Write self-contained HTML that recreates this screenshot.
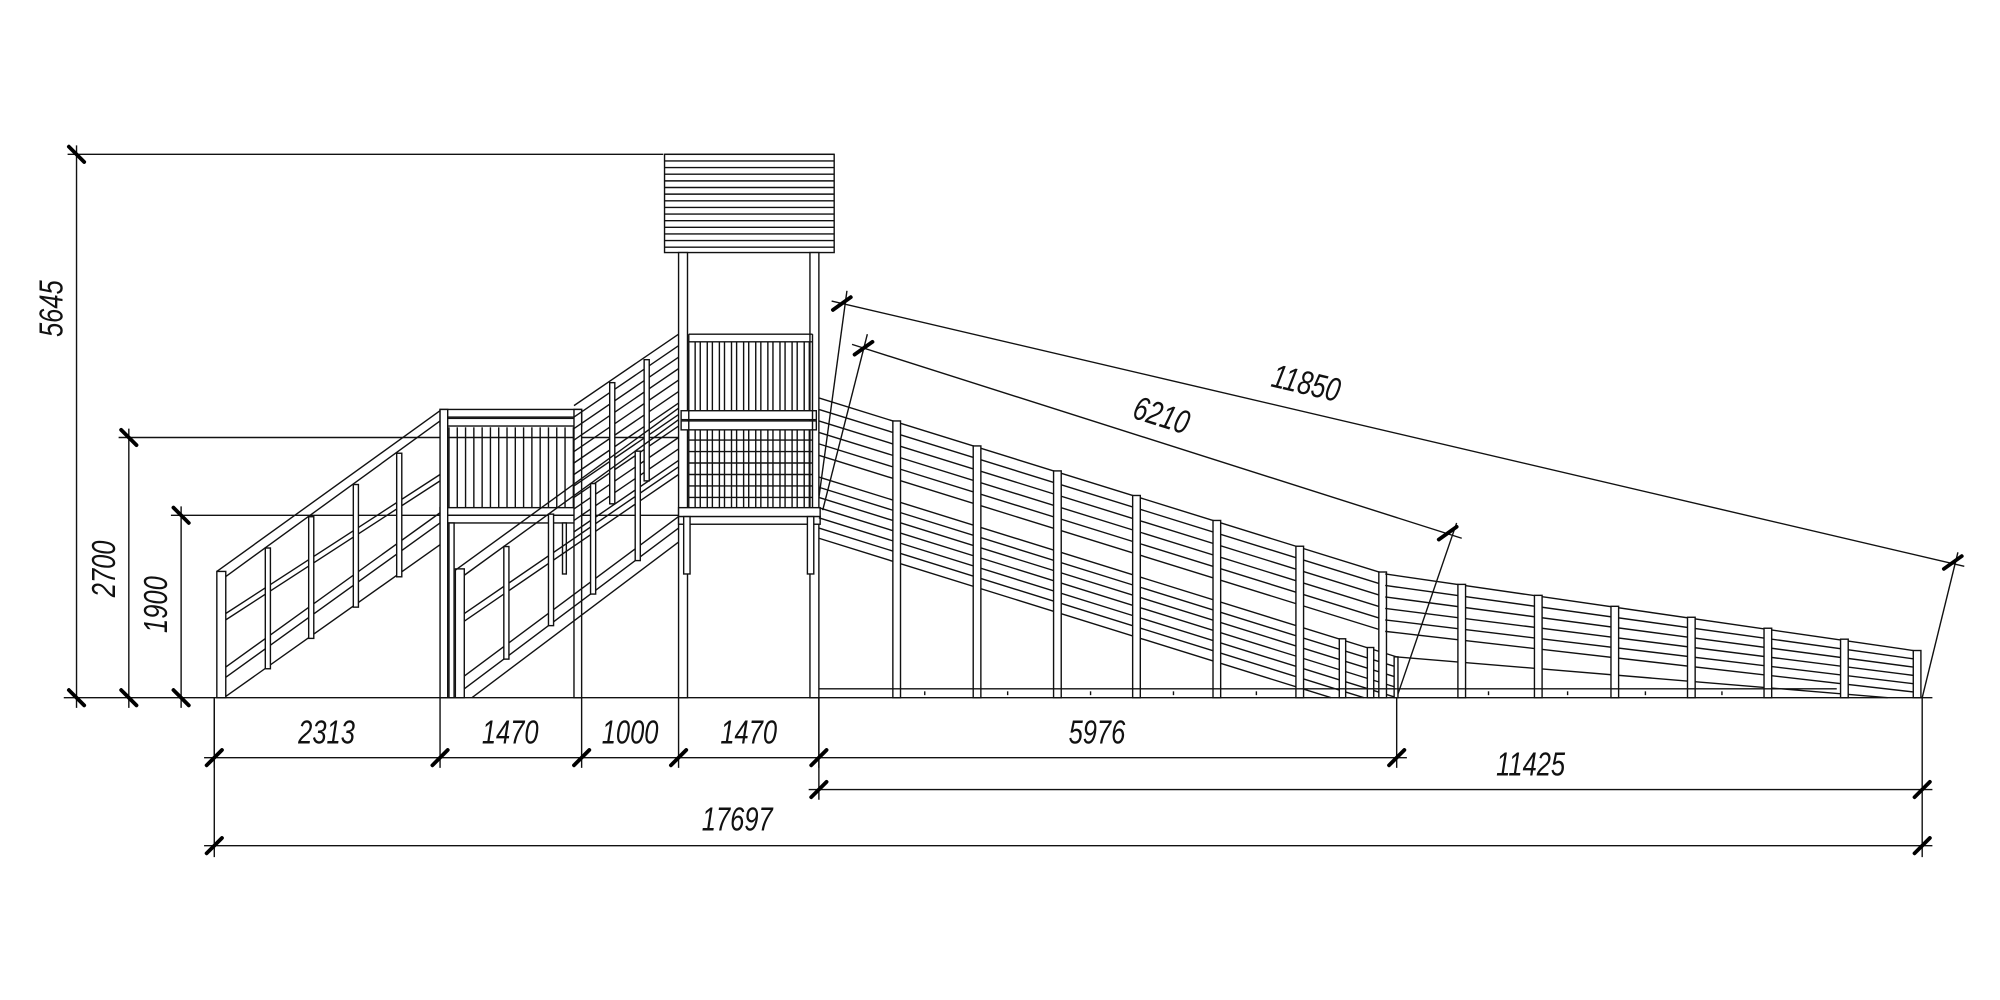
<!DOCTYPE html>
<html><head><meta charset="utf-8"><style>
html,body{margin:0;padding:0;background:#fff;}
svg{display:block}
text{font-family:"Liberation Sans",sans-serif;font-style:italic;font-size:25px;fill:#111;}
</style></head><body>
<svg id="s" width="2000" height="1000" viewBox="0 0 1568 784" preserveAspectRatio="none" xmlns="http://www.w3.org/2000/svg">
<rect width="1568" height="784" fill="#fff"/>
<g id="g" stroke="#111" stroke-width="1.1" fill="none" stroke-linecap="butt"></g>
<g id="t" stroke="#000" stroke-width="3" stroke-linecap="round"></g>
<text text-anchor="middle" transform="translate(256 583) scale(0.8 1.05)">2313</text>
<text text-anchor="middle" transform="translate(400 583) scale(0.8 1.05)">1470</text>
<text text-anchor="middle" transform="translate(494 583) scale(0.8 1.05)">1000</text>
<text text-anchor="middle" transform="translate(587 583) scale(0.8 1.05)">1470</text>
<text text-anchor="middle" transform="translate(860 583) scale(0.8 1.05)">5976</text>
<text text-anchor="middle" transform="translate(1200 608) scale(0.8 1.05)">11425</text>
<text text-anchor="middle" transform="translate(578 651) scale(0.8 1.05)">17697</text>
<text text-anchor="middle" transform="translate(49 242) rotate(-90) scale(0.8 1.05)">5645</text>
<text text-anchor="middle" transform="translate(90 446) rotate(-90) scale(0.8 1.05)">2700</text>
<text text-anchor="middle" transform="translate(131 474) rotate(-90) scale(0.8 1.05)">1900</text>
<text text-anchor="middle" transform="translate(1022 309) rotate(13.2) scale(0.8 1.05)">11850</text>
<text text-anchor="middle" transform="translate(908 334) rotate(17.5) scale(0.8 1.05)">6210</text>
</svg>
<script>
var g=document.getElementById('g'),T=document.getElementById('t');
function L(x1,y1,x2,y2,p){var e=document.createElementNS('http://www.w3.org/2000/svg','line');e.setAttribute('x1',x1);e.setAttribute('y1',y1);e.setAttribute('x2',x2);e.setAttribute('y2',y2);(p||g).appendChild(e);}
function LC(x1,y1,x2,y2){if(y2>547){x2=x1+(x2-x1)*(547-y1)/(y2-y1);y2=547;}L(x1,y1,x2,y2);}
function R(x,y,w,h){var e=document.createElementNS('http://www.w3.org/2000/svg','rect');e.setAttribute('x',x);e.setAttribute('y',y);e.setAttribute('width',w);e.setAttribute('height',h);e.setAttribute('fill','#fff');g.appendChild(e);}
function tk(x,y,d){L(x-6,y+6*d,x+6,y-6*d,T);}
L(50,547,1515,547);
L(53,121,520,121);L(60,114,60,555);
L(93,343,540,343);L(101,336,101,555);
L(134,404,540,404);L(142,397,142,555);
tk(60,121,-1);tk(60,547,-1);tk(101,343,-1);tk(101,547,-1);tk(142,404,-1);tk(142,547,-1);
[168,345,456,532,642,1095].forEach(function(x){L(x,547,x,602);tk(x,594,1);});
L(160,594,1103,594);
L(634,619,1515,619);tk(642,619,1);tk(1507,619,1);L(1507,547,1507,672);L(642,547,642,627);
L(160,663,1515,663);tk(168,663,1);tk(1507,663,1);L(168,547,168,672);
L(652,236,1540,444);L(664,228,640,405);L(1535,433,1507,547);
L(668,270,1146,422);L(680,262,645,400);L(1142,410,1095,547);
(function(){function dt(x,y){L(x-7,y+5,x+7,y-5,T);}dt(660,238);dt(1531,441);dt(677,273);dt(1135,418);})();
R(521,121,133,77);for(var i=0;i<15;i++){var y=121+i*5.2;L(521,y,654,y);}
R(532,198,7,349);R(635,198,7,349);
L(540,262,637,262);L(540,268,637,268);
for(var x=545;x<636;x+=9.5){L(x,268,x,322);L(x+4,268,x+4,322);}
R(534,322,106,7);R(534,330,106,7);
for(var x=545;x<636;x+=9.5){L(x,337,x,398);L(x+4,337,x+4,398);}
for(var y=345;y<398;y+=9){L(540,y,637,y);}
R(532,398,111,7);R(532,405,111,6);
L(540,262,540,398);L(637,262,637,398);
R(536,405,5,45);R(633,405,5,45);
R(345,321,111,6);R(345,328,111,6);
for(var x=352;x<452;x+=6.5){L(x,335,x,398);}
R(345,398,111,6);R(345,404,111,6);
R(345,321,6,226);R(450,321,6,226);R(352,410,4,137);R(441,410,3,40);
for(var k=0;k<12;k++){L(450,318+k*9,532,262+k*9);}
R(478,300,4,95);R(505,282,4,95);
R(170,448,7,99);
L(170,448,345,322);L(177,452,345,330);
L(177,481,345,372);L(177,486,345,377);
L(177,523,345,402);L(177,531,345,410);L(177,546,345,427);
[208,242,277,311].forEach(function(x){var yt=452-(x-177)*0.7214,yb=546-(x-177)*0.7;R(x,yt,4,yb-yt);});
R(357,446,7,101);
L(357,447,532,320);L(364,451,532,329);
L(364,481,532,366);L(364,487,532,372);
L(364,530,532,405);L(364,540,532,414);L(370,547,532,425);
[395,430,463,498].forEach(function(x){var yt=451-(x-364)*0.726,yb=540-(x-364)*0.75;R(x,yt,4,yb-yt);});
var s1=138/444;
for(var k=0;k<6;k++){L(642,312+k*9,1086,450+k*9);}
for(var k=0;k<7;k++){LC(642,374+k*8,1095,515+k*8);}
[700,763,826,888,951,1016,1081].forEach(function(x){var yt=312+(x-642)*s1;R(x,yt,6,547-yt);});
[1050,1072].forEach(function(x){var yt=374+(x-642)*s1;R(x,yt,5,547-yt);});
R(1093,515,3,32);
var s2=(510-450)/(1505-1086);
for(var k=0;k<6;k++){L(1086,450+k*9,1500,510+k*6.5);}
L(1095,515,1480,547);
[1143,1203,1263,1323,1383,1443].forEach(function(x){var yt=450+(x-1086)*s2;R(x,yt,6,547-yt);});
R(1500,510,6,37);
L(642,540,1095,540);L(1095,540,1440,540);
[725,790,855,920,985,1167,1229,1290,1350].forEach(function(x){L(x,542,x,545);});
</script>
</body></html>
